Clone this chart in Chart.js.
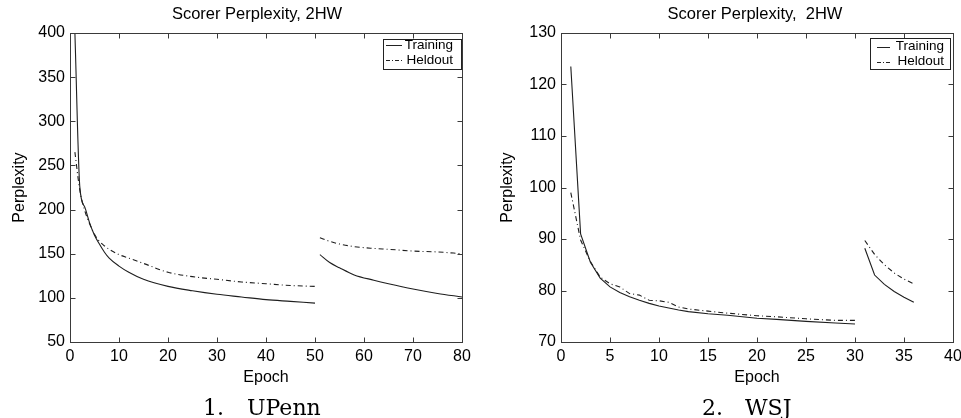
<!DOCTYPE html>
<html>
<head>
<meta charset="utf-8">
<script src="https://cdn.jsdelivr.net/npm/chart.js@4.4.1/dist/chart.umd.min.js"></script>
<style>
  html, body { margin: 0; padding: 0; background: #fff; }
  #wrap { position: relative; width: 961px; height: 418px; overflow: hidden; }
  canvas { position: absolute; top: 0; }
</style>
</head>
<body>
<div id="wrap">
  <canvas id="upenn" width="480" height="418" style="left:0"></canvas>
  <canvas id="wsj" width="481" height="418" style="left:480px"></canvas>
</div>
<script>
// ---- UPenn: first run (epochs 1-50), restart (51-80)
const upennEpochsA   = [1, 2, 3, 4, 5, 6, 7, 8, 10, 12, 15, 20, 25, 30, 35, 40, 45, 50];
const upennTrainA    = [400, 226, 203, 185, 171, 161, 152, 145, 136, 129, 121, 113, 108, 104, 101, 98, 96, 94];
const upennHeldA     = [265, 222, 199, 184, 172, 164, 159, 155, 149, 145, 139, 129, 124, 121, 118, 116, 114, 113];
const upennEpochsB   = [51, 53, 55, 58, 62, 65, 70, 75, 80];
const upennTrainB    = [149, 140, 134, 126, 120, 116, 110, 105, 101];
const upennHeldB     = [168, 164, 161, 158, 156, 155, 153, 152, 150];

// ---- WSJ: first run (epochs 1-30), restart (31-36)
const wsjEpochsA     = [1, 2, 3, 4, 5, 6, 7, 8, 9, 10, 11, 12, 13, 15, 17, 20, 22, 25, 28, 30];
const wsjTrainA      = [123.5, 91, 85.5, 82.4, 80.7, 79.6, 78.8, 78.1, 77.5, 77.0, 76.6, 76.2, 75.9, 75.5, 75.2, 74.6, 74.4, 74.0, 73.7, 73.5];
const wsjHeldA       = [99, 89.8, 85.6, 82.6, 81.3, 80.7, 79.4, 79.1, 78.1, 78.0, 77.7, 76.8, 76.4, 76.0, 75.6, 75.1, 74.9, 74.5, 74.2, 74.2];
const wsjEpochsB     = [31, 32, 33, 34, 35, 36];
const wsjTrainB      = [88.2, 83.0, 81.2, 79.8, 78.7, 77.7];
const wsjHeldB       = [89.7, 87.0, 85.0, 83.4, 82.2, 81.3];

const seriesNames = ["Training", "Heldout"];
const heldDash = [5, 3, 1, 3];
const sans = '"Liberation Sans", Arial, Helvetica, sans-serif';

function pts(xs, ys) {
  return xs.map((x, i) => ({ x: x, y: ys[i] }));
}

function lineSet(label, xs, ys, dashed, smooth) {
  return {
    label: label,
    data: pts(xs, ys),
    borderColor: "#1e1e1e",
    borderWidth: 1.1,
    borderDash: dashed ? heldDash : [],
    pointRadius: 0,
    fill: false,
    cubicInterpolationMode: smooth ? "monotone" : "default",
    tension: 0
  };
}

// MATLAB style frame, inward ticks, titles, legend and caption
const matlabFrame = {
  id: "matlabFrame",
  afterDraw(chart, args, o) {
    const { ctx, chartArea: a, scales: { x, y } } = chart;
    const L = Math.round(a.left) + 0.5, R = Math.round(a.right) + 0.5;
    const T = Math.round(a.top) + 0.5, B = Math.round(a.bottom) + 0.5;
    ctx.save();
    ctx.strokeStyle = "#3a3a3a";
    ctx.lineWidth = 1;
    ctx.setLineDash([]);
    ctx.strokeRect(L, T, R - L, B - T);

    ctx.beginPath();
    x.ticks.forEach(t => {
      const px = Math.round(x.getPixelForValue(t.value)) + 0.5;
      ctx.moveTo(px, B); ctx.lineTo(px, B - 5);
      ctx.moveTo(px, T); ctx.lineTo(px, T + 5);
    });
    y.ticks.forEach(t => {
      const py = Math.round(y.getPixelForValue(t.value)) + 0.5;
      ctx.moveTo(L, py); ctx.lineTo(L + 5, py);
      ctx.moveTo(R, py); ctx.lineTo(R - 5, py);
    });
    ctx.stroke();

    ctx.fillStyle = "#000";
    ctx.textAlign = "center";
    ctx.textBaseline = "middle";
    ctx.font = "16.5px " + sans;
    ctx.fillText(o.title, o.titleX, 14);
    ctx.font = "16px " + sans;
    ctx.fillText("Epoch", (a.left + a.right) / 2, 378);
    ctx.save();
    ctx.translate(o.yTitleX, (a.top + a.bottom) / 2);
    ctx.rotate(-Math.PI / 2);
    ctx.fillText("Perplexity", 0, 0);
    ctx.restore();

    // legend
    const lg = o.legend;
    ctx.fillStyle = "#fff";
    ctx.fillRect(lg.x0, lg.y0, lg.x1 - lg.x0, lg.y1 - lg.y0);
    ctx.strokeStyle = "#222";
    ctx.strokeRect(lg.x0 + 0.5, lg.y0 + 0.5, lg.x1 - lg.x0, lg.y1 - lg.y0);
    ctx.font = "13.5px " + sans;
    ctx.textAlign = "right";
    ctx.fillStyle = "#000";
    seriesNames.forEach((name, i) => {
      const ry = lg.rows[i];
      ctx.setLineDash(i === 1 ? [4, 2, 1, 2] : []);
      ctx.beginPath();
      ctx.moveTo(lg.s0, Math.round(ry) + 0.5);
      ctx.lineTo(lg.s1, Math.round(ry) + 0.5);
      ctx.stroke();
      ctx.setLineDash([]);
      ctx.fillText(name, lg.textRight, ry);
    });

    // caption under the panel
    ctx.textAlign = "left";
    ctx.textBaseline = "alphabetic";
    ctx.font = '22px "DejaVu Serif", serif';
    ctx.fillText(o.caption[0], o.capX[0], 415);
    ctx.fillText(o.caption[1], o.capX[1], 415);
    ctx.restore();
  }
};

function makeChart(id, cfg) {
  return new Chart(document.getElementById(id), {
    type: "line",
    data: { datasets: cfg.datasets },
    options: {
      responsive: false,
      animation: false,
      layout: { padding: { top: 33, right: cfg.padRight, bottom: 0, left: 0 } },
      plugins: {
        legend: { display: false },
        tooltip: { enabled: false },
        matlabFrame: cfg.frame
      },
      scales: {
        x: {
          type: "linear",
          min: 0, max: cfg.xMax,
          grid: { display: false, drawTicks: false },
          border: { display: false },
          ticks: { stepSize: cfg.xStep, autoSkip: false, maxRotation: 0, padding: 5, color: "#000", font: { family: sans, size: 16 } },
          afterFit(s) { s.height = 76; s.paddingLeft = 0; s.paddingRight = 0; }
        },
        y: {
          min: cfg.yMin, max: cfg.yMax,
          grid: { display: false, drawTicks: false },
          border: { display: false },
          ticks: { stepSize: cfg.yStep, autoSkip: false, padding: 5, color: "#000", font: { family: sans, size: 16 } },
          afterFit(s) { s.width = cfg.yWidth; s.paddingTop = 0; s.paddingBottom = 0; }
        }
      }
    },
    plugins: [matlabFrame]
  });
}

makeChart("upenn", {
  datasets: [
    lineSet("Training", upennEpochsA, upennTrainA, false, true),
    lineSet("Training", upennEpochsB, upennTrainB, false, true),
    lineSet("Heldout", upennEpochsA, upennHeldA, true, true),
    lineSet("Heldout", upennEpochsB, upennHeldB, true, true)
  ],
  xMax: 80, xStep: 10, yMin: 50, yMax: 400, yStep: 50,
  yWidth: 70, padRight: 18,
  frame: {
    title: "Scorer Perplexity, 2HW", titleX: 257, yTitleX: 20,
    legend: { x0: 383, y0: 39, x1: 461, y1: 69, rows: [45, 60], s0: 386, s1: 402, textRight: 453 },
    caption: ["1.", "UPenn"], capX: [203, 247]
  }
});

makeChart("wsj", {
  datasets: [
    lineSet("Training", wsjEpochsA, wsjTrainA, false, false),
    lineSet("Training", wsjEpochsB, wsjTrainB, false, false),
    lineSet("Heldout", wsjEpochsA, wsjHeldA, true, false),
    lineSet("Heldout", wsjEpochsB, wsjHeldB, true, false)
  ],
  xMax: 40, xStep: 5, yMin: 70, yMax: 130, yStep: 10,
  yWidth: 81, padRight: 8,
  frame: {
    title: "Scorer Perplexity,  2HW", titleX: 275, yTitleX: 28,
    legend: { x0: 390, y0: 38, x1: 470, y1: 69, rows: [46.5, 61.5], s0: 397, s1: 410, textRight: 464 },
    caption: ["2.", "WSJ"], capX: [222, 265]
  }
});
</script>
</body>
</html>
